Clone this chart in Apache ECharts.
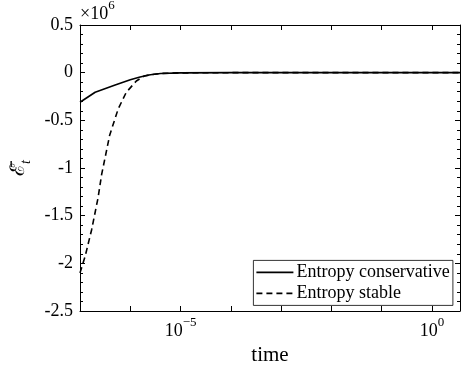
<!DOCTYPE html>
<html><head><meta charset="utf-8">
<script src="https://cdn.jsdelivr.net/npm/echarts@6/dist/echarts.min.js"></script>
<style>html,body{margin:0;padding:0;background:#fff}#c{width:463px;height:371px}</style>
</head><body><div id="c"></div>
<script>
// values in units of 10^6
var timeConservative = [1e-7, 2e-7, 5e-7, 1e-6, 1.5e-6, 1.9e-6, 2.5e-6, 4e-6, 1e-5, 1e-4, 1e-3, 1e-2, 1e-1, 1, 3.6];
var entropyConservative = [-0.31, -0.205, -0.13, -0.075, -0.048, -0.035, -0.022, -0.008, -0.002, 0, 0, 0, 0, 0, 0];
var timeStable = [1e-7, 1.26e-7, 1.7e-7, 2.29e-7, 2.69e-7, 3.89e-7, 5.75e-7, 8.3e-7, 1.32e-6, 1.9e-6, 2.5e-6, 4e-6, 1e-5, 1e-4, 1e-3, 1e-2, 1e-1, 1, 3.6];
var entropyStable = [-2.1, -1.93, -1.65, -1.31, -1.07, -0.656, -0.38, -0.207, -0.087, -0.035, -0.022, -0.008, -0.002, 0, 0, 0, 0, 0, 0];
var seriesNames = ['Entropy conservative', 'Entropy stable'];
var xLabelExponents = [-5, 0];
var yTickLabels = ['-2.5', '-2', '-1.5', '-1', '-0.5', '0', '0.5'];

function pairs(xs, ys) { return xs.map(function (x, i) { return [x, ys[i]]; }); }
var serif = 'Liberation Serif';
var chart = echarts.init(document.getElementById('c'));
var yFmt = function (v) {
  var s = String(Math.round(v * 10) / 10);
  return yTickLabels.indexOf(s) >= 0 ? s : '';
};
var DASH = [6, 4];
chart.setOption({
  animation: false,
  backgroundColor: '#fff',
  grid: { left: 80, right: 1, top: 25, bottom: 56, containLabel: false },
  graphic: [{
    type: 'text', left: 80, top: -1,
    style: {
      text: '{a|×10}{s|6}',
      rich: {
        a: { fontFamily: serif, fontSize: 18, fill: '#000', lineHeight: 24, verticalAlign: 'bottom' },
        s: { fontFamily: serif, fontSize: 13, fill: '#000', lineHeight: 24, verticalAlign: 'top' }
      }
    }
  }, {
    type: 'group', left: 253, top: 260, z: 100,
    children: [
      { type: 'rect', shape: { x: 0, y: 0, width: 199.5, height: 45 }, style: { fill: '#fff', stroke: '#000', lineWidth: 0.8 } },
      { type: 'line', shape: { x1: 3, y1: 12, x2: 40, y2: 12 }, style: { stroke: '#000', lineWidth: 1.6 } },
      { type: 'line', shape: { x1: 3, y1: 33, x2: 40, y2: 33 }, style: { stroke: '#000', lineWidth: 1.6, lineDash: DASH } },
      { type: 'text', x: 43, y: 12, style: { text: seriesNames[0], fontFamily: serif, fontSize: 18, fill: '#000', verticalAlign: 'middle', align: 'left' } },
      { type: 'text', x: 43, y: 33, style: { text: seriesNames[1], fontFamily: serif, fontSize: 18, fill: '#000', verticalAlign: 'middle', align: 'left' } }
    ]
  }],
  xAxis: [{
    type: 'log', logBase: 10, min: 1e-7, max: 3.6, interval: 1,
    axisLine: { show: true, onZero: false, lineStyle: { color: '#000', width: 1 } },
    axisTick: { show: true, inside: true, length: 5, lineStyle: { color: '#000' } },
    splitLine: { show: false }, minorTick: { show: false },
    axisLabel: {
      margin: 5, showMinLabel: true, showMaxLabel: true,
      formatter: function (v) {
        var e = Math.round(Math.log10(v) * 1000) / 1000;
        if (Math.abs(e - Math.round(e)) > 1e-6) return '';
        e = Math.round(e);
        if (xLabelExponents.indexOf(e) < 0) return '';
        return '{b|10}{s|' + (e < 0 ? '\u2212' + (-e) : e) + '}';
      },
      rich: {
        b: { fontFamily: serif, fontSize: 18, color: '#000', lineHeight: 24, verticalAlign: 'bottom' },
        s: { fontFamily: serif, fontSize: 13, color: '#000', lineHeight: 24, verticalAlign: 'top' }
      }
    },
    name: 'time', nameLocation: 'middle', nameGap: 34,
    nameTextStyle: { fontFamily: serif, fontSize: 21, color: '#000' }
  }, {
    type: 'log', logBase: 10, min: 1e-7, max: 3.6, interval: 1, position: 'top',
    axisLine: { show: true, onZero: false, lineStyle: { color: '#000', width: 1 } },
    axisTick: { show: true, inside: true, length: 5, lineStyle: { color: '#000' } },
    axisLabel: { show: false }, splitLine: { show: false }
  }],
  yAxis: [{
    type: 'value', min: -2.5, max: 0.5, interval: 0.5,
    axisLine: { show: true, onZero: false, lineStyle: { color: '#000', width: 1 } },
    axisTick: { show: true, inside: true, length: 5, lineStyle: { color: '#000' } },
    minorTick: { show: true, splitNumber: 5, length: 3, lineStyle: { color: '#000' } },
    splitLine: { show: false },
    axisLabel: { formatter: yFmt, fontFamily: serif, fontSize: 18, color: '#000', margin: 7 },
    name: '{e|\u2130\u0304}{t|t}', nameLocation: 'middle', nameGap: 40, nameRotate: 90,
    nameTextStyle: {
      rich: {
        e: { fontFamily: 'DejaVu Serif', fontSize: 20, color: '#000', lineHeight: 26, verticalAlign: 'bottom' },
        t: { fontFamily: serif, fontStyle: 'italic', fontSize: 14, color: '#000', lineHeight: 26, verticalAlign: 'bottom', padding: [0, 0, -5, 0] }
      }
    }
  }, {
    type: 'value', min: -2.5, max: 0.5, interval: 0.5, position: 'right',
    axisLine: { show: true, onZero: false, lineStyle: { color: '#000', width: 1 } },
    axisTick: { show: true, inside: true, length: 5, lineStyle: { color: '#000' } },
    minorTick: { show: true, splitNumber: 5, length: 3, lineStyle: { color: '#000' } },
    splitLine: { show: false }, axisLabel: { show: false }
  }],
  series: [{
    name: seriesNames[0], type: 'line', showSymbol: false, symbol: 'none',
    data: pairs(timeConservative, entropyConservative),
    lineStyle: { color: '#000', width: 1.6 }, itemStyle: { color: '#000' }
  }, {
    name: seriesNames[1], type: 'line', showSymbol: false, symbol: 'none',
    data: pairs(timeStable, entropyStable),
    lineStyle: { color: '#000', width: 1.6, type: DASH }, itemStyle: { color: '#000' }
  }]
});
</script></body></html>
